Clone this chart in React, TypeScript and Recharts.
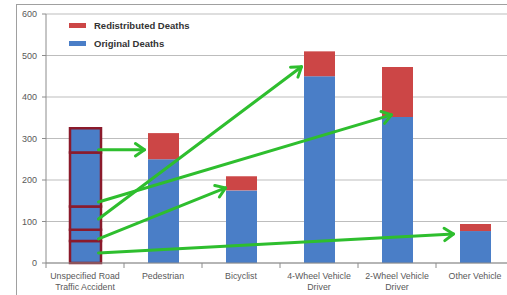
import { BarChart, Bar, XAxis, YAxis, CartesianGrid, Legend, ReferenceLine } from 'recharts';

const categories = [
    'Unspecified Road\nTraffic Accident',
    'Pedestrian',
    'Bicyclist',
    '4-Wheel Vehicle\nDriver',
    '2-Wheel Vehicle\nDriver',
    'Other Vehicle',
];
const originalDeaths = [0, 250, 175, 450, 352, 77];
const redistributedDeaths = [0, 63, 34, 60, 120, 17];
// unspecified bar cut into the pieces that get handed out (bottom to top)
const unspecifiedPieces = [53, 27, 56, 130, 59];
const yTicks = [0, 100, 200, 300, 400, 500, 600];

// arrows from a piece of the unspecified bar to the bar it is added to
const arrows = [
    { fromValue: 273, to: categories[1], toValue: 273, inset: -3 },
    { fromValue: 147, to: categories[4], toValue: 357, inset: 10 },
    { fromValue: 106, to: categories[3], toValue: 473, inset: -2 },
    { fromValue: 58, to: categories[2], toValue: 181, inset: 0 },
    { fromValue: 24, to: categories[5], toValue: 70, inset: -6 },
];

const BLUE = '#4A7EC7';
const RED = '#CC4646';
const MAROON = '#8B1A2B';
const GREEN = '#2EBE2E';
const BAR = 31;
const CHART_W = 520;
const Y_W = 46;
const MARGIN = { top: 14, right: 6, left: 0, bottom: 0 };
const BAND = (CHART_W - MARGIN.left - MARGIN.right - Y_W) / categories.length;

const data = categories.map((name, i) => {
    const row: any = { name, original: originalDeaths[i], redistributed: redistributedDeaths[i] };
    unspecifiedPieces.forEach((v, j) => { row['piece' + j] = i === 0 ? v : 0; });
    return row;
});

const CategoryTick = ({ x, y, payload, index }: any) => {
    const lines = String(payload.value).split('\n');
    return <g>
        <line x1={x - BAND / 2} x2={x - BAND / 2} y1={y} y2={y + 5} stroke="#8c8c8c" />
        {index === categories.length - 1 &&
            <line x1={x + BAND / 2} x2={x + BAND / 2} y1={y} y2={y + 5} stroke="#8c8c8c" />}
        <text x={x} y={y} textAnchor="middle" fill="#595959" fontSize={8.8} fontFamily="Liberation Sans, Arial, sans-serif">
            {lines.map((l, i) => <tspan key={i} x={x} dy={i === 0 ? 16 : 11}>{l}</tspan>)}
        </text>
    </g>;
};

const ArrowShape = (props: any) => {
    const { x1, y1, x2, y2, inset } = props;
    const sx = x1 + BAR / 2 - 2;
    const ex = x2 - BAR / 2 + inset;
    const ang = Math.atan2(y2 - y1, ex - sx);
    const len = 11;
    const spread = 0.6;
    const ax = ex - len * Math.cos(ang - spread);
    const ay = y2 - len * Math.sin(ang - spread);
    const bx = ex - len * Math.cos(ang + spread);
    const by = y2 - len * Math.sin(ang + spread);
    return <g stroke={GREEN} strokeWidth={3} fill="none" strokeLinecap="round" strokeLinejoin="round">
        <line x1={sx} y1={y1} x2={ex} y2={y2} />
        <polyline points={`${ax},${ay} ${ex},${y2} ${bx},${by}`} />
    </g>;
};

const LegendContent = ({ payload }: any) => {
    const order = ['redistributed', 'original'];
    const items = order
        .map(k => (payload || []).find((p: any) => p.dataKey === k))
        .filter(Boolean);
    return <div style={{ fontFamily: 'Liberation Sans, Arial, sans-serif', fontWeight: 'bold', fontSize: 9.5, color: '#333' }}>
        {items.map((p: any) => (
            <div key={p.dataKey} style={{ display: 'flex', alignItems: 'center', height: 18 }}>
                <span style={{ width: 17, height: 5, background: p.color, marginRight: 8, display: 'inline-block' }} />
                <span>{p.value}</span>
            </div>
        ))}
    </div>;
};

export default function App() {
    return <div style={{ position: 'absolute', left: 0, top: 0, width: 507, height: 295, overflow: 'hidden', background: '#fff' }}>
        <div style={{ position: 'absolute', left: 16, top: 4, width: 600, height: 400, border: '1px solid #a0a0a0' }} />
        <div style={{ position: 'absolute', left: 0, top: 0 }}>
            <BarChart width={CHART_W} height={295} data={data} margin={MARGIN} barSize={BAR}>
                <CartesianGrid vertical={false} stroke="#bdbdbd" />
                <XAxis dataKey="name" height={32} tickSize={0} tickMargin={0} tickLine={false}
                    axisLine={{ stroke: '#8c8c8c' }} interval={0} tick={<CategoryTick />} />
                <YAxis width={Y_W} domain={[0, 600]} ticks={yTicks} tickSize={4} tickMargin={5}
                    axisLine={{ stroke: '#8c8c8c' }} tickLine={{ stroke: '#8c8c8c' }}
                    tick={{ fill: '#595959', fontSize: 9, fontFamily: 'Liberation Sans, Arial, sans-serif' }} />
                <Legend layout="vertical" align="center" verticalAlign="middle" content={<LegendContent />}
                    wrapperStyle={{ left: 69, top: 16, width: 'auto', height: 'auto' }} />
                <Bar dataKey="original" name="Original Deaths" stackId="a" fill={BLUE} isAnimationActive={false} />
                <Bar dataKey="redistributed" name="Redistributed Deaths" stackId="a" fill={RED} isAnimationActive={false} />
                {unspecifiedPieces.map((_, j) => (
                    <Bar key={j} dataKey={'piece' + j} stackId="a" fill={BLUE} stroke={MAROON} strokeWidth={2.5}
                        legendType="none" isAnimationActive={false} />
                ))}
                {arrows.map((a, i) => (
                    <ReferenceLine key={i} ifOverflow="visible"
                        segment={[{ x: categories[0], y: a.fromValue }, { x: a.to, y: a.toValue }]}
                        shape={(p: any) => <ArrowShape {...p} inset={a.inset} />} />
                ))}
            </BarChart>
        </div>
    </div>;
}
